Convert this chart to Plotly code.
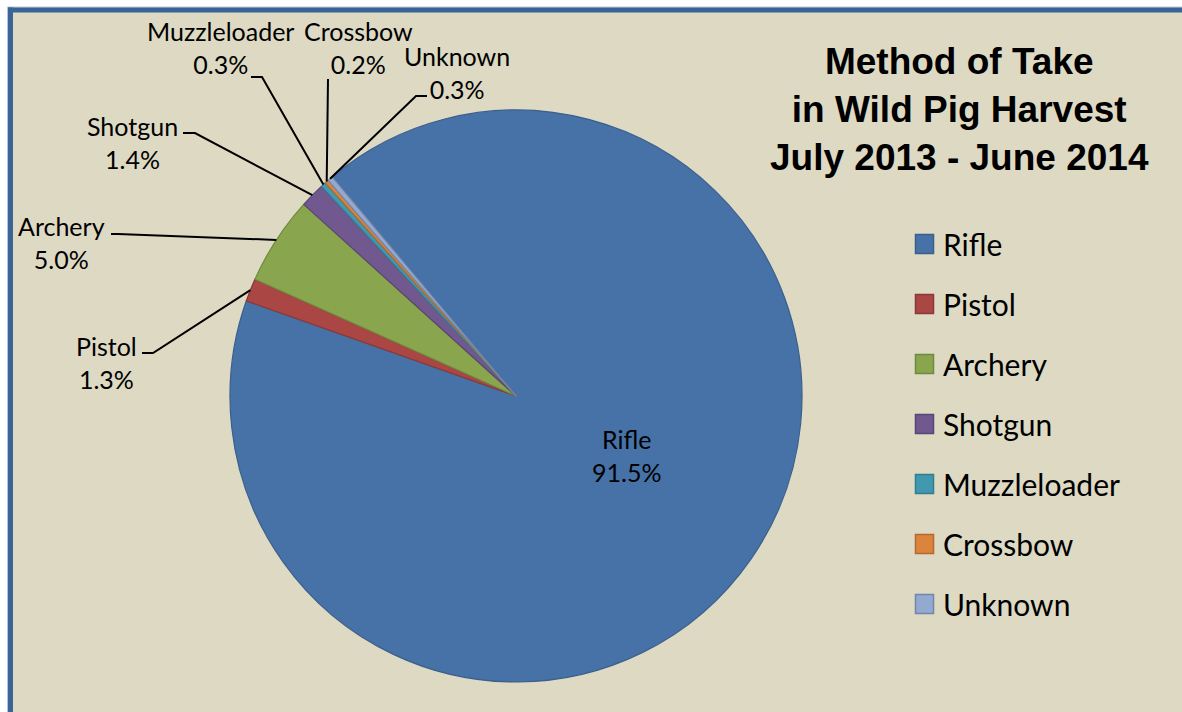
import math
import plotly.graph_objects as go

# ---------------- data ----------------
methods = ["Rifle", "Pistol", "Archery", "Shotgun", "Muzzleloader", "Crossbow", "Unknown"]
shares = [91.5, 1.3, 5.0, 1.4, 0.3, 0.2, 0.3]
fill_colors = ["#4672A8", "#AA4643", "#89A54E", "#71588F", "#4198AF", "#DB843D", "#93A9CF"]
line_colors = ["#3A5F8C", "#8A3936", "#6F8A3E", "#5A4675", "#337D90", "#B36A30", "#7186AA"]
title_lines = ["Method of Take", "in Wild Pig Harvest", "July 2013 - June 2014"]

# ---------------- layout geometry (pixels) ----------------
W, H = 1182, 712
CX, CY, R = 516, 396, 286
ROTATION = -40
BG = "#DDD9C3"
BORDER = "#3A6496"

# outside label centres and leader-line stubs (label side)
label_layout = {
    "Pistol": (106, 362, [(142, 353), (153, 353)]),
    "Archery": (61, 243, [(111, 234), (118, 234)]),
    "Shotgun": (132, 142, [(183, 133), (195, 133)]),
    "Muzzleloader": (220, 47, [(251, 77), (262, 77)]),
    "Crossbow": (358, 47, [(328, 79)]),
    "Unknown": (457, 73, [(427, 96), (416, 96)]),
}
inside_label = {"Rifle": (626, 455)}


def px(x):
    return x / W


def py(y):
    return 1 - y / H


fig = go.Figure()
fig.add_trace(go.Pie(
    labels=methods, values=shares, sort=False, direction="clockwise",
    rotation=ROTATION,
    marker=dict(colors=fill_colors, line=dict(color=line_colors, width=1.2)),
    textinfo="none", hoverinfo="label+percent", showlegend=False,
    domain=dict(x=[px(CX - R), px(CX + R)], y=[py(CY + R), py(CY - R)]),
))

shapes = []
annotations = []

# white page strip outside the chart frame (top and left), then the frame edges
shapes.append(dict(type="rect", xref="paper", yref="paper", x0=0, x1=1, y0=py(7), y1=1,
                   fillcolor="#FFFFFF", line=dict(width=0), layer="below"))
shapes.append(dict(type="rect", xref="paper", yref="paper", x0=0, x1=px(8), y0=0, y1=1,
                   fillcolor="#FFFFFF", line=dict(width=0), layer="below"))
shapes.append(dict(type="line", xref="paper", yref="paper", x0=px(7.5), x1=1, y0=py(7), y1=py(7),
                   line=dict(color="#B7C4D8", width=1), layer="below"))
shapes.append(dict(type="line", xref="paper", yref="paper", x0=px(7.5), x1=px(7.5), y0=0, y1=py(7),
                   line=dict(color="#B7C4D8", width=1), layer="below"))
shapes.append(dict(type="line", xref="paper", yref="paper", x0=px(8), x1=1, y0=py(10), y1=py(10),
                   line=dict(color=BORDER, width=5), layer="below"))
shapes.append(dict(type="line", xref="paper", yref="paper", x0=px(10.5), x1=px(10.5), y0=0, y1=py(7.5),
                   line=dict(color=BORDER, width=5), layer="below"))

# data labels + leader lines
total = sum(shares)
cum = 0.0
for name, v in zip(methods, shares):
    mid = math.radians(ROTATION + 360.0 * (cum + v / 2.0) / total)
    cum += v
    text = f"{name}<br>{v:.1f}%"
    if name in inside_label:
        lx, ly = inside_label[name]
        annotations.append(dict(x=px(lx), y=py(ly), xref="paper", yref="paper",
                                text=text, showarrow=False, xanchor="center", yanchor="middle",
                                font=dict(family="Lato", size=25, color="#000000")))
        continue
    lx, ly, stub = label_layout[name]
    annotations.append(dict(x=px(lx), y=py(ly), xref="paper", yref="paper",
                            text=text, showarrow=False, xanchor="center", yanchor="middle",
                            font=dict(family="Lato", size=25, color="#000000")))
    ex = CX + R * math.sin(mid)
    ey = CY - R * math.cos(mid)
    pts = stub + [(ex, ey)]
    path = "M " + " L ".join(f"{px(x):.5f},{py(y):.5f}" for x, y in pts)
    shapes.append(dict(type="path", xref="paper", yref="paper", path=path,
                       line=dict(color="#000000", width=2)))

# title
annotations.append(dict(x=px(959), y=py(110), xref="paper", yref="paper",
                        text="<br>".join(title_lines), showarrow=False,
                        xanchor="center", yanchor="middle", align="center",
                        font=dict(family="Liberation Sans", size=37, color="#000000", weight="bold")))

# legend (drawn manually to match Excel spacing)
for i, (name, fc, lc) in enumerate(zip(methods, fill_colors, line_colors)):
    cy = 244 + 60 * i
    shapes.append(dict(type="rect", xref="paper", yref="paper",
                       x0=px(915.5), x1=px(933.5), y0=py(cy + 9.5), y1=py(cy - 9.5),
                       fillcolor=fc, line=dict(color=lc, width=1.5)))
    annotations.append(dict(x=px(941), y=py(cy), xref="paper", yref="paper",
                            text=name, showarrow=False, xanchor="left", yanchor="middle",
                            font=dict(family="Lato", size=30, color="#000000")))

fig.update_layout(
    width=W, height=H, autosize=False,
    margin=dict(l=0, r=0, t=0, b=0, pad=0),
    paper_bgcolor=BG, plot_bgcolor=BG,
    shapes=shapes, annotations=annotations, showlegend=False,
)

fig.write_html(
    "out.html",
    config={"displayModeBar": False},
    post_script="document.body.style.margin='0';document.body.style.overflow='hidden';",
)
